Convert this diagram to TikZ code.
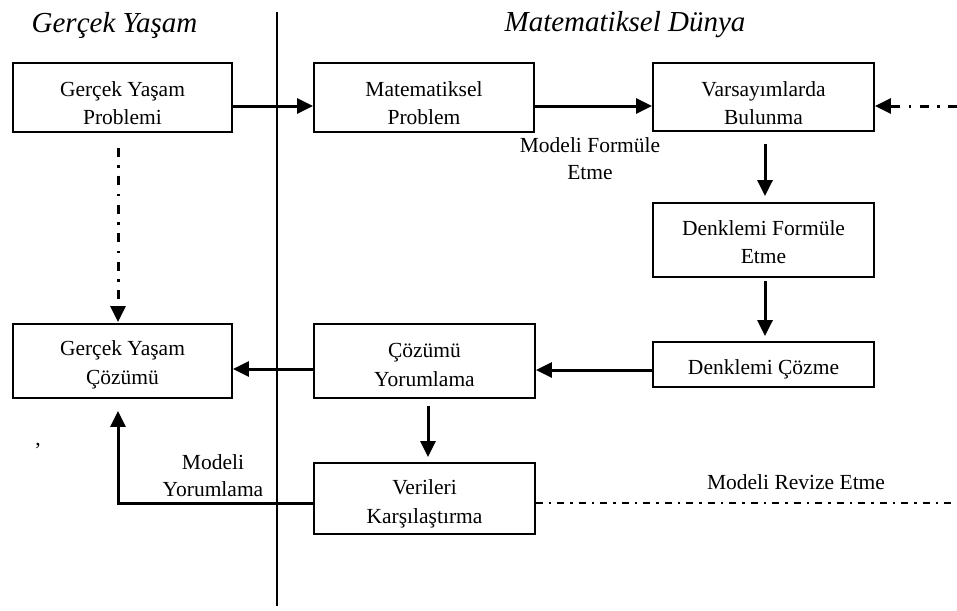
\documentclass[tikz,border=0pt]{standalone}
\usepackage{fontspec}
\setmainfont{Liberation Serif}
\usetikzlibrary{arrows.meta,calc}
\begin{document}
\begin{tikzpicture}[x=1pt,y=-1pt,
  box/.style={draw,line width=1.8pt,inner sep=0pt},
  boxtext/.style={align=center,inner sep=0pt,font=\fontsize{21.5}{28.5}\selectfont},
  lbl/.style={align=center,inner sep=0pt,font=\fontsize{21.5}{27}\selectfont},
  title/.style={inner sep=0pt,font=\fontsize{29}{32}\selectfont\itshape},
  tip/.style={-{Triangle[length=16pt 0,width=15pt 0]}},
  flow/.style={line width=3pt,tip},
  dashdot/.style={line width=3pt,dash pattern=on 9pt off 8.5pt on 2.5pt off 8.5pt},
  dashdotfine/.style={line width=2.8pt,dash pattern=on 7pt off 6pt on 2.5pt off 6pt}]
\useasboundingbox (0,0) rectangle (957,610);

% divider between the two worlds
\coordinate (divtop) at (277,12);
\coordinate (divbot) at (277,606);
\draw[line width=2.2pt] (divtop) -- (divbot);

% headings
\node[title] (hreal) at (114.5,25) {Gerçek Yaşam};
\node[title] (hmath) at (625,25) {Matematiksel Dünya};

% boxes
\node[box,minimum width=219pt,minimum height=69pt] (gyp) at (122.5,97.5) {};
\node[box,minimum width=220pt,minimum height=69pt] (mp) at (424,97.5) {};
\node[box,minimum width=221pt,minimum height=68pt] (vb) at (763.5,97) {};
\node[box,minimum width=221pt,minimum height=74pt] (dfe) at (763.5,240) {};
\node[box,minimum width=221pt,minimum height=45pt] (dc) at (763.5,364.5) {};
\node[box,minimum width=221pt,minimum height=74pt] (cy) at (424.5,361) {};
\node[box,minimum width=219pt,minimum height=74pt] (gyc) at (122.5,361) {};
\node[box,minimum width=221pt,minimum height=71pt] (vk) at (424.5,498.5) {};

% box texts
\node[boxtext] (gyptxt) at ([yshift=-5.5pt]gyp.center) {Gerçek Yaşam\\Problemi};
\node[boxtext] (mptxt) at ([yshift=-5.5pt]mp.center) {Matematiksel\\Problem};
\node[boxtext] (vbtxt) at ([yshift=-6pt]vb.center) {Varsayımlarda\\Bulunma};
\node[boxtext] (dfetxt) at ([yshift=-2pt]dfe.center) {Denklemi Formüle\\Etme};
\node[boxtext] (dctxt) at ([yshift=-4.5pt]dc.center) {Denklemi Çözme};
\node[boxtext] (cytxt) at ([yshift=-4pt]cy.center) {Çözümü\\Yorumlama};
\node[boxtext] (gyctxt) at ([yshift=-4pt]gyc.center) {Gerçek Yaşam\\Çözümü};
\node[boxtext] (vktxt) at ([yshift=-5.5pt]vk.center) {Verileri\\Karşılaştırma};

% free ends of the dash-dot connectors
\coordinate (rin) at (957,106);
\coordinate (rout) at (957,503);
\coordinate (corner) at (118,503);

% connectors
\draw[flow] ([yshift=-8.5pt]gyp.east) -- ([yshift=-8.5pt]mp.west);
\draw[flow] ([yshift=-8.5pt]mp.east) -- ([yshift=-9pt]vb.west);
\draw[dashdot,tip] (rin) -- (rin -| vb.east);
\draw[flow,shorten <=12pt,shorten >=6pt] ([xshift=1.5pt]vb.south) -- ([xshift=1.5pt]dfe.north);
\draw[flow,shorten <=3pt,shorten >=5pt] ([xshift=1.5pt]dfe.south) -- ([xshift=1.5pt]dc.north);
\draw[flow] ([yshift=-5.5pt]dc.west) -- ([yshift=-5.5pt]dc.west -| cy.east);
\draw[flow] ([yshift=-8pt]cy.west) -- ([yshift=-8pt]cy.west -| gyc.east);
\draw[dashdot,tip,shorten <=15pt,shorten >=1pt] ([xshift=-4.5pt]gyp.south) -- ([xshift=-4.5pt]gyc.north);
\draw[flow,shorten <=7pt,shorten >=5pt] ([xshift=3.5pt]cy.south) -- ([xshift=3.5pt]vk.north);
\draw[flow,shorten >=12pt] (corner -| vk.west) -- (corner) -- (corner |- gyc.south);
\draw[dashdotfine] (rout -| vk.east) -- (rout);

% connector labels
\node[lbl] (lform) at (590,158.5) {Modeli Formüle\\Etme};
\node[lbl] (lyor) at (213,475.5) {Modeli\\Yorumlama};
\node[lbl] (lrev) at (796,482) {Modeli Revize Etme};
\node[lbl] (comma) at (38,446) {,};
\end{tikzpicture}
\end{document}
